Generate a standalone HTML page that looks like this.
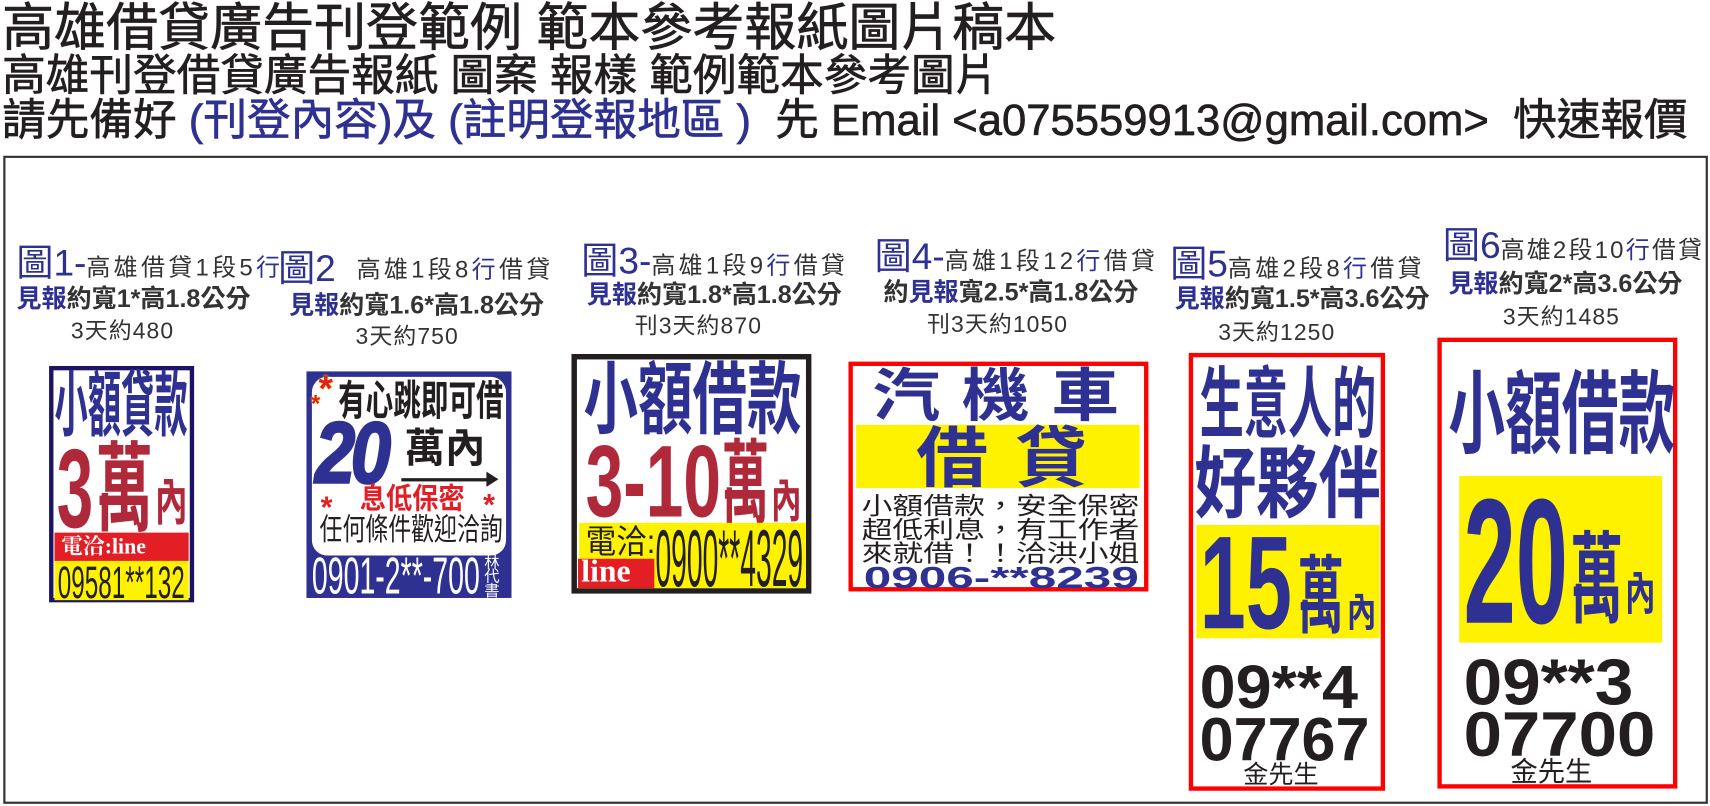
<!DOCTYPE html>
<html><head><meta charset="utf-8">
<style>
html,body{margin:0;padding:0;background:#fff;overflow:hidden;width:1710px;height:806px}
#s{position:absolute;left:0;top:0;width:1568px;height:740px;transform:scale(1.0906,1.0892);transform-origin:0 0;font-family:"Liberation Sans","Noto Sans CJK TC",sans-serif;color:#231f20}
.a{position:absolute;white-space:nowrap;line-height:1;transform-origin:0 0}
.b{font-weight:700}
.n{color:#2e3192}
.r{color:#b0293a}
.h{-webkit-text-stroke:0.6px #231f20}
.box{position:absolute;box-sizing:border-box;background:#fff}
.cap{position:absolute;white-space:nowrap;line-height:1;color:#333;font-size:22px;letter-spacing:3px}
.big{font-size:34px;color:#2e3192;letter-spacing:0}
.l2{position:absolute;white-space:nowrap;line-height:1;font-size:23px;font-weight:700;color:#333}
.l3{position:absolute;white-space:nowrap;line-height:1;font-size:21px;color:#333;letter-spacing:1px}
.bl{color:#2e3192}
</style></head><body><div id="s">

<!-- header -->
<div class="a h" style="left:2px;top:2px;font-size:46.5px;transform:scale(1.025,1.02)">高雄借貸廣告刊登範例 範本參考報紙圖片稿本</div>
<div class="a h" style="left:2px;top:50px;font-size:40px">高雄刊登借貸廣告報紙 圖案 報樣 範例範本參考圖片</div>
<div class="a h" style="left:2px;top:91px;font-size:40px;transform:scaleX(1.0)">請先備好 <span class="n" style="-webkit-text-stroke:0.6px #2e3192">(刊登內容)及 (註明登報地區 )</span>&nbsp; 先 Email &lt;a075559913@gmail.com&gt;&nbsp; 快速報價</div>

<div style="position:absolute;left:3px;top:143px;width:1559px;height:591px;border:2px solid #333"></div>

<!-- captions -->
<div class="cap" style="left:15px;top:225px"><span class="big">圖1-</span>高雄借貸1段5<span class="bl">行</span></div>
<div class="l2" style="left:15px;top:263px"><span class="bl">見報</span>約寬1*高1.8公分</div>
<div class="l3" style="left:65px;top:294px">3天約480</div>

<div class="cap" style="left:255px;top:230px"><span class="big">圖2</span></div>
<div class="cap" style="left:327px;top:237px">高雄1段8<span class="bl">行</span>借貸</div>
<div class="l2" style="left:265px;top:269px"><span class="bl">見報</span>約寬1.6*高1.8公分</div>
<div class="l3" style="left:326px;top:299px">3天約750</div>

<div class="cap" style="left:533px;top:223px"><span class="big">圖3-</span>高雄1段9<span class="bl">行</span>借貸</div>
<div class="l2" style="left:538px;top:259px"><span class="bl">見報</span>約寬1.8*高1.8公分</div>
<div class="l3" style="left:582px;top:289px">刊3天約870</div>

<div class="cap" style="left:802px;top:219px"><span class="big">圖4-</span>高雄1段12<span class="bl">行</span>借貸</div>
<div class="l2" style="left:810px;top:257px">約<span class="bl">見報</span>寬2.5*高1.8公分</div>
<div class="l3" style="left:850px;top:288px">刊3天約1050</div>

<div class="cap" style="left:1073px;top:226px"><span class="big">圖5</span>高雄2段8<span class="bl">行</span>借貸</div>
<div class="l2" style="left:1077px;top:263px"><span class="bl">見報</span>約寬1.5*高3.6公分</div>
<div class="l3" style="left:1117px;top:295px">3天約1250</div>

<div class="cap" style="left:1323px;top:209px;letter-spacing:2px"><span class="big">圖6</span>高雄2段10<span class="bl">行</span>借貸</div>
<div class="l2" style="left:1328px;top:249px"><span class="bl">見報</span>約寬2*高3.6公分</div>
<div class="l3" style="left:1378px;top:281px">3天約1485</div>

<!-- Ad1 -->
<div class="box" style="left:45px;top:336px;width:133px;height:217px;border:4px solid #1b1464"></div>
<div class="a b n" style="left:50px;top:341px;font-size:30.5px;transform:scaleY(2.15)">小額貸款</div>
<div class="a b r" style="left:52px;top:398px;font-size:60px;transform:scaleY(1.72)">3</div>
<div class="a b r" style="left:88px;top:406px;font-size:52px;transform:scaleY(1.72)">萬</div>
<div class="a b r" style="left:142px;top:440px;font-size:30px;transform:scaleY(1.55)">內</div>
<div style="position:absolute;left:50px;top:489px;width:123px;height:26px;background:#e31e24"></div>
<div class="a b" style="left:56px;top:492px;font-size:20px;color:#fff;font-family:'Liberation Serif','Noto Serif CJK SC',serif">電洽:line</div>
<div style="position:absolute;left:50px;top:515px;width:123px;height:36px;background:#fff200"></div>
<div class="a" style="left:53px;top:514px;font-size:42px;transform:scaleX(0.53)">09581**132</div>

<!-- Ad2 -->
<div class="box" style="left:281px;top:341px;width:188px;height:208px;background:#2e3192"></div>
<div style="position:absolute;left:286px;top:346px;width:178px;height:164px;background:#fff;border-radius:14px"></div>
<div class="a b" style="left:310px;top:351px;font-size:25.3px;transform:scaleY(1.5)">有心跳即可借</div>
<div class="a b" style="left:292px;top:340px;font-size:34px;color:#e31e24;text-shadow:0 0 2px #ff0">*</div>
<div class="a b" style="left:285px;top:360px;font-size:22px;color:#e31e24;text-shadow:0 0 2px #ff0">*</div>
<div class="a b n" style="left:289px;top:376px;font-size:66px;font-style:italic;transform:scaleY(1.2);letter-spacing:-4px;-webkit-text-stroke:2px #2e3192">20</div>
<div class="a b" style="left:371px;top:393px;font-size:37px">萬內</div>
<div style="position:absolute;left:368px;top:439px;width:80px;height:3px;background:#231f20"></div>
<div style="position:absolute;left:446px;top:433px;width:0;height:0;border-left:11px solid #231f20;border-top:7px solid transparent;border-bottom:7px solid transparent"></div>
<div class="a b" style="left:294px;top:452px;font-size:28px;color:#e31e24">*</div>
<div class="a b" style="left:443px;top:450px;font-size:28px;color:#e31e24">*</div>
<div class="a b" style="left:330px;top:446px;font-size:24px;color:#e31e24;transform:scaleY(1.1)">息低保密</div>
<div class="a" style="left:293px;top:473px;font-size:21px;transform:scaleY(1.35)">任何條件歡迎洽詢</div>
<div class="a" style="left:286px;top:506px;font-size:47.5px;color:#fff;transform:scaleX(0.55)">0901-2**-700</div>
<div class="a" style="left:444px;top:510px;font-size:14px;color:#fff;line-height:13px;white-space:normal;width:16px">林代書</div>

<!-- Ad3 -->
<div class="box" style="left:524px;top:325px;width:220px;height:220px;border:5px solid #231f20"></div>
<div class="a b n" style="left:535px;top:331px;font-size:50px;transform:scaleY(1.45)">小額借款</div>
<div class="a b r" style="left:537px;top:397px;font-size:62px;transform:scaleY(1.51)">3-10</div>
<div class="a b r" style="left:662px;top:405px;font-size:43px;transform:scaleY(1.95)">萬</div>
<div class="a b r" style="left:707px;top:440px;font-size:28px;transform:scaleY(1.5)">內</div>
<div style="position:absolute;left:531px;top:480px;width:208px;height:60px;background:#fff200"></div>
<div class="a" style="left:537px;top:483px;font-size:28px;transform:scaleY(1.08)">電洽:</div>
<div style="position:absolute;left:530px;top:513px;width:70px;height:27px;background:#e31e24"></div>
<div class="a b" style="left:533px;top:511px;font-size:29px;color:#fff;font-family:'Liberation Serif',serif">line</div>
<div class="a" style="left:601px;top:476px;font-size:74px;transform:scaleX(0.35)">0900**4329</div>

<!-- Ad4 -->
<div class="box" style="left:778px;top:332px;width:275px;height:211px;border:4px solid #ff0000"></div>
<div class="a b n" style="left:800px;top:338px;font-size:62px;letter-spacing:20px;transform:scaleY(0.85)">汽機車</div>
<div style="position:absolute;left:785px;top:390px;width:260px;height:58px;background:#fff200"></div>
<div class="a b n" style="left:840px;top:390px;font-size:66px;letter-spacing:25px;transform:scaleY(0.92)">借貸</div>
<div class="a" style="left:790px;top:453px;font-size:28.3px;transform:scaleY(0.78)">小額借款，安全保密</div>
<div class="a" style="left:790px;top:475px;font-size:28.3px;transform:scaleY(0.78)">超低利息，有工作者</div>
<div class="a" style="left:790px;top:497px;font-size:28.3px;transform:scaleY(0.78)">來就借！！洽洪小姐</div>
<div class="a b n" style="left:792px;top:517px;font-size:28px;transform:scaleX(1.62)">0906-**8239</div>

<!-- Ad5 -->
<div class="box" style="left:1090px;top:324px;width:180px;height:402px;border:4px solid #ff0000"></div>
<div class="a b n" style="left:1100px;top:336px;font-size:40.5px;transform:scaleY(1.75)">生意人的</div>
<div class="a b n" style="left:1095px;top:410px;font-size:57px;transform:scaleY(1.26)">好夥伴</div>
<div style="position:absolute;left:1097px;top:482px;width:168px;height:104px;background:#fff200"></div>
<div class="a b n" style="left:1100px;top:476px;font-size:76px;transform:scaleY(1.6)">15</div>
<div class="a b n" style="left:1190px;top:510px;font-size:42px;transform:scaleY(1.85)">萬</div>
<div class="a b n" style="left:1235px;top:545px;font-size:27px;transform:scaleY(1.35)">內</div>
<div class="a b" style="left:1100px;top:603px;font-size:56px;transform:scaleX(1.06)">09**4</div>
<div class="a b" style="left:1100px;top:651px;font-size:56px">07767</div>
<div class="a" style="left:1140px;top:700px;font-size:23px">金先生</div>

<!-- Ad6 -->
<div class="box" style="left:1318px;top:310px;width:220px;height:414px;border:4px solid #ff0000"></div>
<div class="a b n" style="left:1328px;top:340px;font-size:52px;transform:scaleY(1.6)">小額借款</div>
<div style="position:absolute;left:1338px;top:437px;width:186px;height:153px;background:#fff200"></div>
<div class="a b n" style="left:1342px;top:435px;font-size:86px;transform:scaleY(1.9)">20</div>
<div class="a b n" style="left:1440px;top:490px;font-size:48px;transform:scaleY(1.9)">萬</div>
<div class="a b n" style="left:1490px;top:525px;font-size:28px;transform:scaleY(1.5)">內</div>
<div class="a b" style="left:1342px;top:597px;font-size:60px;transform:scaleX(1.06)">09**3</div>
<div class="a b" style="left:1342px;top:646px;font-size:58px;transform:scaleX(1.09)">07700</div>
<div class="a" style="left:1385px;top:697px;font-size:25px">金先生</div>

</div></body></html>
